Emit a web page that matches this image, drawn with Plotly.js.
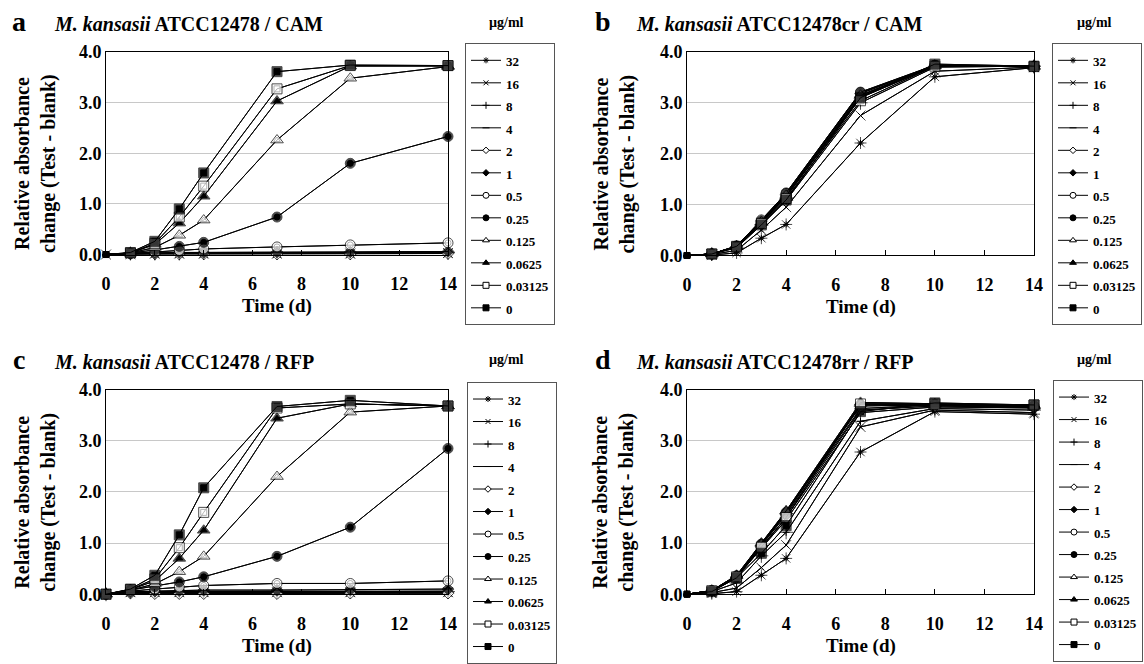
<!DOCTYPE html>
<html><head><meta charset="utf-8">
<script src="https://cdn.plot.ly/plotly-3.0.1.min.js"></script>
<style>html,body{margin:0;padding:0;background:#fff}#chart{width:1144px;height:664px}</style>
</head><body><div id="chart"></div>
<script>
// ---- data ----
const days = [0, 1, 2, 3, 4, 7, 10, 14];
const concLabels = ["32", "16", "8", "4", "2", "1", "0.5", "0.25", "0.125", "0.0625", "0.03125", "0"];
const xTickVals = [0, 2, 4, 6, 8, 10, 12, 14];
const yTickVals = [0, 1, 2, 3, 4];

// a: M. kansasii ATCC12478 / CAM
const a_32      = [0, 0.01, 0.01, 0.01, 0.01, 0.01, 0.01, 0.02];
const a_16      = [0, 0.01, 0.02, 0.02, 0.02, 0.02, 0.02, 0.03];
const a_8       = [0, 0.02, 0.02, 0.02, 0.03, 0.03, 0.03, 0.04];
const a_4       = [0, 0.02, 0.03, 0.03, 0.03, 0.04, 0.04, 0.05];
const a_2       = [0, 0.01, 0.01, 0.01, 0.01, 0.01, 0.01, 0.02];
const a_1       = [0, 0.02, 0.03, 0.04, 0.04, 0.05, 0.05, 0.06];
const a_0_5     = [0, 0.02, 0.05, 0.08, 0.11, 0.15, 0.19, 0.23];
const a_0_25    = [0, 0.03, 0.09, 0.16, 0.24, 0.74, 1.80, 2.33];
const a_0_125   = [0, 0.03, 0.14, 0.38, 0.68, 2.26, 3.48, 3.71];
const a_0_0625  = [0, 0.03, 0.20, 0.62, 1.15, 3.03, 3.72, 3.72];
const a_0_03125 = [0, 0.03, 0.22, 0.74, 1.35, 3.27, 3.73, 3.73];
const a_0       = [0, 0.04, 0.26, 0.90, 1.61, 3.61, 3.74, 3.73];

// b: M. kansasii ATCC12478cr / CAM
const b_32      = [0, 0.01, 0.05, 0.34, 0.61, 2.21, 3.51, 3.69];
const b_16      = [0, 0.02, 0.10, 0.50, 0.95, 2.75, 3.62, 3.70];
const b_8       = [0, 0.03, 0.15, 0.60, 1.08, 3.00, 3.70, 3.72];
const b_4       = [0, 0.03, 0.17, 0.64, 1.15, 3.10, 3.72, 3.72];
const b_2       = [0, 0.03, 0.17, 0.66, 1.17, 3.12, 3.72, 3.71];
const b_1       = [0, 0.03, 0.18, 0.68, 1.20, 3.18, 3.73, 3.72];
const b_0_5     = [0, 0.03, 0.18, 0.70, 1.22, 3.20, 3.73, 3.71];
const b_0_25    = [0, 0.03, 0.19, 0.68, 1.23, 3.21, 3.74, 3.72];
const b_0_125   = [0, 0.03, 0.18, 0.66, 1.18, 3.15, 3.72, 3.71];
const b_0_0625  = [0, 0.03, 0.18, 0.65, 1.16, 3.14, 3.73, 3.72];
const b_0_03125 = [0, 0.03, 0.17, 0.63, 1.12, 3.04, 3.72, 3.71];
const b_0       = [0, 0.03, 0.18, 0.60, 1.09, 3.10, 3.76, 3.72];

// c: M. kansasii ATCC12478 / RFP
const c_32      = [0, 0.03, 0.03, 0.03, 0.03, 0.03, 0.03, 0.03];
const c_16      = [0, 0.04, 0.04, 0.04, 0.04, 0.04, 0.04, 0.04];
const c_8       = [0, 0.04, 0.05, 0.05, 0.05, 0.05, 0.05, 0.05];
const c_4       = [0, 0.05, 0.05, 0.05, 0.06, 0.06, 0.06, 0.06];
const c_2       = [0, 0.02, 0.01, 0.01, 0.01, 0.01, 0.02, 0.02];
const c_1       = [0, 0.04, 0.06, 0.07, 0.08, 0.08, 0.09, 0.10];
const c_0_5     = [0, 0.06, 0.10, 0.14, 0.17, 0.21, 0.21, 0.26];
const c_0_25    = [0, 0.08, 0.15, 0.24, 0.34, 0.74, 1.31, 2.85];
const c_0_125   = [0, 0.08, 0.20, 0.44, 0.74, 2.30, 3.56, 3.68];
const c_0_0625  = [0, 0.09, 0.26, 0.70, 1.25, 3.44, 3.72, 3.68];
const c_0_03125 = [0, 0.09, 0.30, 0.91, 1.60, 3.64, 3.72, 3.68];
const c_0       = [0, 0.10, 0.37, 1.16, 2.08, 3.67, 3.79, 3.68];

// d: M. kansasii ATCC12478rr / RFP
const d_32      = [0, 0.01, 0.05, 0.37, 0.70, 2.78, 3.57, 3.52];
const d_16      = [0, 0.03, 0.12, 0.52, 0.96, 3.27, 3.60, 3.55];
const d_8       = [0, 0.05, 0.22, 0.75, 1.21, 3.38, 3.63, 3.60];
const d_4       = [0, 0.06, 0.32, 0.90, 1.45, 3.55, 3.66, 3.64];
const d_2       = [0, 0.06, 0.33, 0.92, 1.50, 3.60, 3.68, 3.65];
const d_1       = [0, 0.07, 0.35, 0.95, 1.55, 3.63, 3.70, 3.66];
const d_0_5     = [0, 0.07, 0.35, 0.97, 1.58, 3.68, 3.70, 3.67];
const d_0_25    = [0, 0.07, 0.36, 0.98, 1.60, 3.70, 3.71, 3.68];
const d_0_125   = [0, 0.07, 0.36, 0.98, 1.62, 3.72, 3.71, 3.68];
const d_0_0625  = [0, 0.07, 0.37, 1.00, 1.63, 3.75, 3.72, 3.69];
const d_0_03125 = [0, 0.07, 0.34, 0.92, 1.50, 3.72, 3.72, 3.70];
const d_0       = [0, 0.05, 0.32, 0.80, 1.34, 3.57, 3.74, 3.70];

const panelA = [a_32, a_16, a_8, a_4, a_2, a_1, a_0_5, a_0_25, a_0_125, a_0_0625, a_0_03125, a_0];
const panelB = [b_32, b_16, b_8, b_4, b_2, b_1, b_0_5, b_0_25, b_0_125, b_0_0625, b_0_03125, b_0];
const panelC = [c_32, c_16, c_8, c_4, c_2, c_1, c_0_5, c_0_25, c_0_125, c_0_0625, c_0_03125, c_0];
const panelD = [d_32, d_16, d_8, d_4, d_2, d_1, d_0_5, d_0_25, d_0_125, d_0_0625, d_0_03125, d_0];

// ---- styles ----
const W = 1144, H = 664;
const FONT = "Liberation Serif";
const px = v => v / W, py = v => 1 - v / H;
const markerStyles = [
  {symbol: "asterisk-open", color: "black", size: 10},
  {symbol: "x-thin-open", color: "black", size: 10},
  {symbol: "cross-thin-open", color: "black", size: 10},
  {symbol: "line-ew-open", color: "black", size: 8},
  {symbol: "diamond", color: "white", size: 9},
  {symbol: "diamond", color: "black", size: 9},
  {symbol: "circle", color: "white", size: 10},
  {symbol: "circle", color: "black", size: 10},
  {symbol: "triangle-up", color: "white", size: 11},
  {symbol: "triangle-up", color: "black", size: 11},
  {symbol: "square", color: "white", size: 10},
  {symbol: "square", color: "black", size: 10}
];
const legendSizes = [5, 5, 5, 5, 5, 5, 6, 6, 6, 6, 6, 6];

const panels = [
  {data: panelA, xa: "x", ya: "y", leg: "legend", box: [106, 448, 53, 260], letter: "a", title: "<i>M. kansasii</i> ATCC12478 / CAM", lx: 465, ly: 44, firstMark: "16"},
  {data: panelB, xa: "x2", ya: "y2", leg: "legend2", box: [687, 1034, 53, 261], letter: "b", title: "<i>M. kansasii</i> ATCC12478cr / CAM", lx: 1052, ly: 44, firstMark: "none"},
  {data: panelC, xa: "x3", ya: "y3", leg: "legend3", box: [106, 448, 398, 607], letter: "c", title: "<i>M. kansasii</i> ATCC12478 / RFP", lx: 467, ly: 390, firstMark: "all"},
  {data: panelD, xa: "x4", ya: "y4", leg: "legend4", box: [687, 1034, 398, 607], letter: "d", title: "<i>M. kansasii</i> ATCC12478rr / RFP", lx: 1053, ly: 388, firstMark: "none"}
];

const traces = [];
const layout = {
  width: W, height: H, margin: {l: 0, r: 0, t: 0, b: 0},
  font: {family: FONT, color: "black"},
  annotations: []
};

panels.forEach((p, pi) => {
  // series drawn first with small markers: these carry the legend entries
  p.data.forEach((ys, i) => {
    const m = markerStyles[i];
    const t = {
      type: "scatter", mode: "lines+markers", x: days, y: ys, legend: p.leg,
      legendgroup: p.leg + "_" + i,
      name: '<span style="font-size:13px">' + concLabels[i] + '</span>',
      cliponaxis: false, hoverinfo: "skip",
      line: {color: "black", width: 1},
      marker: {symbol: m.symbol, color: m.color, size: legendSizes[i], line: {color: "black", width: 1}}
    };
    if (pi > 0) { t.xaxis = p.xa; t.yaxis = p.ya; }
    traces.push(t);
  });
  // same series on top with the full-size chart markers
  p.data.forEach((ys, i) => {
    const m = markerStyles[i];
    const showFirst = p.firstMark === "all" || p.firstMark === concLabels[i];
    const sizes = days.map((d, k) => (k === 0 && !showFirst) ? 0 : m.size);
    traces.push({
      type: "scatter", mode: "lines+markers", x: days, y: ys,
      xaxis: p.xa, yaxis: p.ya, name: concLabels[i], showlegend: false,
      legend: p.leg, legendgroup: p.leg + "_" + i,
      cliponaxis: false, hoverinfo: "skip",
      line: {color: "black", width: 1},
      marker: {symbol: m.symbol, color: m.color, size: sizes, line: {color: "black", width: 1}}
    });
  });
  const n = pi === 0 ? "" : String(pi + 1);
  const [x0, x1, y0, y1] = p.box;
  layout["xaxis" + n] = {
    domain: [px(x0), px(x1)], anchor: "y" + n, range: [0, 14],
    tickvals: xTickVals, ticks: "inside", ticklen: 5, tickcolor: "black",
    ticklabelstandoff: 13,
    showgrid: false, zeroline: false, showline: true, mirror: true, linecolor: "black", linewidth: 1,
    tickfont: {family: FONT, size: 18, weight: "bold", color: "black"}, fixedrange: true
  };
  layout["yaxis" + n] = {
    domain: [py(y1), py(y0)], anchor: "x" + n, range: [0, 4],
    tickvals: yTickVals, tickformat: ".1f", ticks: "",
    showgrid: true, gridcolor: "#c8c8c8", gridwidth: 1,
    zeroline: false, showline: true, mirror: true, linecolor: "black", linewidth: 1,
    tickfont: {family: FONT, size: 18, weight: "bold", color: "black"}, fixedrange: true
  };
  layout[p.leg] = {
    x: px(p.lx), y: py(p.ly), xanchor: "left", yanchor: "top",
    bgcolor: "white", bordercolor: "#555", borderwidth: 1,
    font: {family: FONT, size: 15, weight: "bold"},
    itemwidth: 30, traceorder: "normal", tracegroupgap: 0
  };
  const left = x0 < 500;
  const ann = layout.annotations;
  ann.push({xref: "paper", yref: "paper", x: px(left ? 19 : 603), y: py(pi < 2 ? 22 : 367), text: "<b>" + p.letter + "</b>",
    showarrow: false, font: {family: FONT, size: 28, color: "black"}, xanchor: "center", yanchor: "middle"});
  ann.push({xref: "paper", yref: "paper", x: px(left ? 52 : 634), y: py(pi < 2 ? 25 : 370), text: "<b>" + p.title + "</b>",
    showarrow: false, font: {family: FONT, size: 20, color: "black"}, xanchor: "left", yanchor: "middle"});
  ann.push({xref: "paper", yref: "paper", x: px(left ? 506 : 1094), y: py(pi < 2 ? 23 : 367), text: "<b>µg/ml</b>",
    showarrow: false, font: {family: FONT, size: 14, color: "black"}, xanchor: "center", yanchor: "middle"});
  ann.push({xref: "paper", yref: "paper", x: px(left ? 36 : 614), y: py((y0 + y1) / 2 + 11),
    text: "<b>Relative absorbance<br>change (Test - blank)</b>", textangle: -90,
    showarrow: false, font: {family: FONT, size: 20, color: "black"}, xanchor: "center", yanchor: "middle"});
  ann.push({xref: "paper", yref: "paper", x: px((x0 + x1) / 2), y: py(y1 + 53),
    text: "<b>Time (d)</b>", showarrow: false, font: {family: FONT, size: 19, color: "black"}, xanchor: "center", yanchor: "middle"});
});

Plotly.newPlot("chart", traces, layout, {displayModeBar: false, staticPlot: true});
</script></body></html>
